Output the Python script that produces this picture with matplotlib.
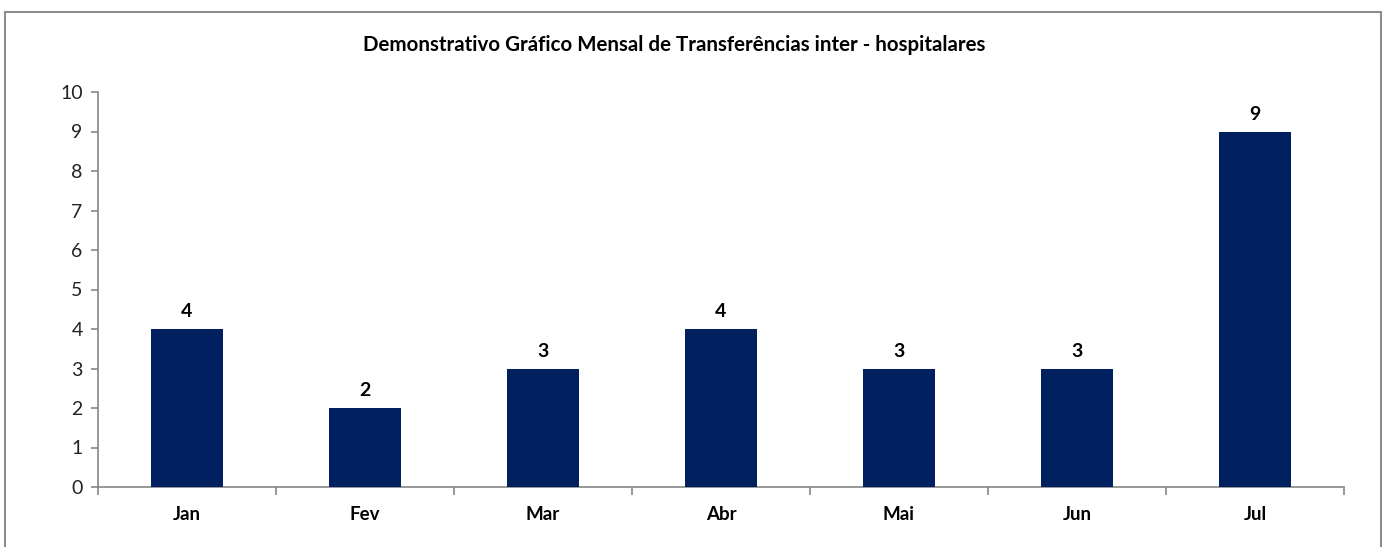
import matplotlib
matplotlib.use("Agg")
import matplotlib.pyplot as plt
from matplotlib.patches import Rectangle
import numpy as np

months = ["Jan", "Fev", "Mar", "Abr", "Mai", "Jun", "Jul"]
values = [4, 2, 3, 4, 3, 3, 9]
title = "Demonstrativo Gráfico Mensal de Transferências inter - hospitalares"

plt.rcParams['font.family'] = ['Lato', 'DejaVu Sans']

W, H = 1390, 547
fig = plt.figure(figsize=(W/100, H/100), dpi=100)
fig.patch.set_facecolor("white")

# outer frame
fig.patches.append(Rectangle((5/W, -0.1), (1381-5)/W, 1.1 - 12/H,
                             transform=fig.transFigure, fill=False,
                             edgecolor="#8c8c8c", linewidth=1.5))

ax = fig.add_axes([98/W, 1-487/H, (1344-98)/W, (487-92)/H])
x = np.arange(len(months))
ax.bar(x, values, width=0.4, color="#002060", zorder=3)
for xi, v in zip(x, values):
    ax.text(xi, v + 0.22, str(v), ha="center", va="bottom",
            fontsize=14, fontweight="bold", color="black")

ax.set_xlim(-0.5, len(months) - 0.5)
ax.set_ylim(0, 10)
ax.set_yticks(range(0, 11))
ax.tick_params(axis="y", labelsize=14, length=5, color="#868686", width=1.2, pad=6,
               labelcolor="#222222")
ax.set_xticks(np.arange(-0.5, len(months), 1.0))
ax.set_xticklabels([])
ax.set_xticks(x, minor=True)
ax.set_xticklabels(months, minor=True, fontweight="bold", fontsize=13.5)
ax.tick_params(axis="x", which="major", length=6, color="#868686", width=1.2)
ax.tick_params(axis="x", which="minor", length=0, pad=14)

for s in ["top", "right"]:
    ax.spines[s].set_visible(False)
for s in ["left", "bottom"]:
    ax.spines[s].set_color("#868686")
    ax.spines[s].set_linewidth(1.2)

fig.text(674/W, 1-45/H, title, ha="center", va="center",
         fontsize=14.8, fontweight="bold", color="black")

fig.savefig("out.png", dpi=100, facecolor="white")
